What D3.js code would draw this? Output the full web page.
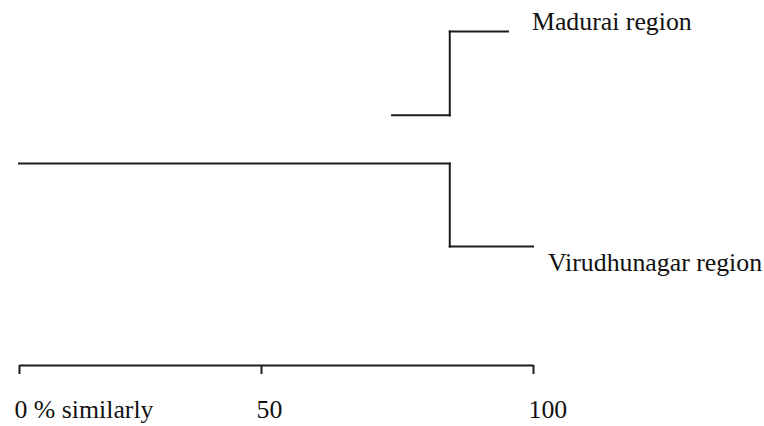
<!DOCTYPE html>
<html>
<head>
<meta charset="utf-8">
<script src="https://cdn.jsdelivr.net/npm/d3@7"></script>
<style>
  html, body { margin: 0; padding: 0; background: #fff; }
  svg { display: block; }
  text { font-family: "Liberation Serif", "Times New Roman", serif; fill: #111; }
</style>
</head>
<body>
<svg id="chart" width="764" height="426"></svg>
<script>
// ---- data ----
const leafNames = ["Madurai region", "Virudhunagar region"];
const leafSimilarity = [95.4, 100];          // where each leaf branch ends (% similarity)
const leafRow = [0, 1];                        // relative vertical order of leaves
const joinSimilarity = [84.7];                 // where the two groups join
const stubFrom = [74.1];                       // start of the upper stub
const stubRow = [0.39];                        // row of the upper stub
const rootFrom = [0];                          // start of the root line
const rootRow = [0.614];                       // row of the root line
const tickValues = [0, 50, 100];
const tickLabels = ["0 % similarly", "50", "100"];

// ---- scales ----
const svg = d3.select("#chart");
// the printed axis is not evenly spaced: 50 sits left of the midpoint
const x = d3.scaleLinear().domain([0, 50, 100]).range([19, 261, 533]);
const y = d3.scaleLinear().domain([0, 1]).range([31.5, 246.5]);
const stroke = "#1c1c1c";
const sw = 2;

const segs = [];
leafSimilarity.forEach((v, i) => {
  segs.push({x1: joinSimilarity[0], x2: v, y1: leafRow[i], y2: leafRow[i]});
});
segs.push({x1: joinSimilarity[0], x2: joinSimilarity[0], y1: leafRow[0], y2: stubRow[0]});
segs.push({x1: stubFrom[0], x2: joinSimilarity[0], y1: stubRow[0], y2: stubRow[0]});
segs.push({x1: rootFrom[0], x2: joinSimilarity[0], y1: rootRow[0], y2: rootRow[0]});
segs.push({x1: joinSimilarity[0], x2: joinSimilarity[0], y1: rootRow[0], y2: leafRow[1]});

svg.append("g").selectAll("line").data(segs).join("line")
  .attr("x1", d => x(d.x1)).attr("x2", d => x(d.x2))
  .attr("y1", d => y(d.y1)).attr("y2", d => y(d.y2))
  .attr("stroke", stroke).attr("stroke-width", sw)
  .attr("stroke-linecap", "square");

// leaf labels
const labelOffsets = [{dx: 24, dy: -2}, {dx: 15, dy: 24}];
svg.append("g").selectAll("text").data(leafNames).join("text")
  .attr("x", (d, i) => x(leafSimilarity[i]) + labelOffsets[i].dx)
  .attr("y", (d, i) => y(leafRow[i]) + labelOffsets[i].dy)
  .attr("font-size", 25.8)
  .text(d => d);

// axis
const axis = d3.axisBottom(x)
  .tickValues(tickValues)
  .tickSize(9)
  .tickSizeOuter(0)
  .tickFormat((d, i) => tickLabels[i]);

const gAxis = svg.append("g").attr("transform", "translate(0,365)").call(axis);
gAxis.select(".domain").attr("stroke", stroke).attr("stroke-width", sw);
gAxis.selectAll(".tick line").attr("stroke", stroke).attr("stroke-width", sw);
gAxis.selectAll(".tick text")
  .attr("font-size", 25.8)
  .attr("fill", "#111")
  .attr("text-anchor", "start")
  .attr("x", -5)
  .attr("y", 53)
  .attr("dy", 0);
</script>
</body>
</html>
